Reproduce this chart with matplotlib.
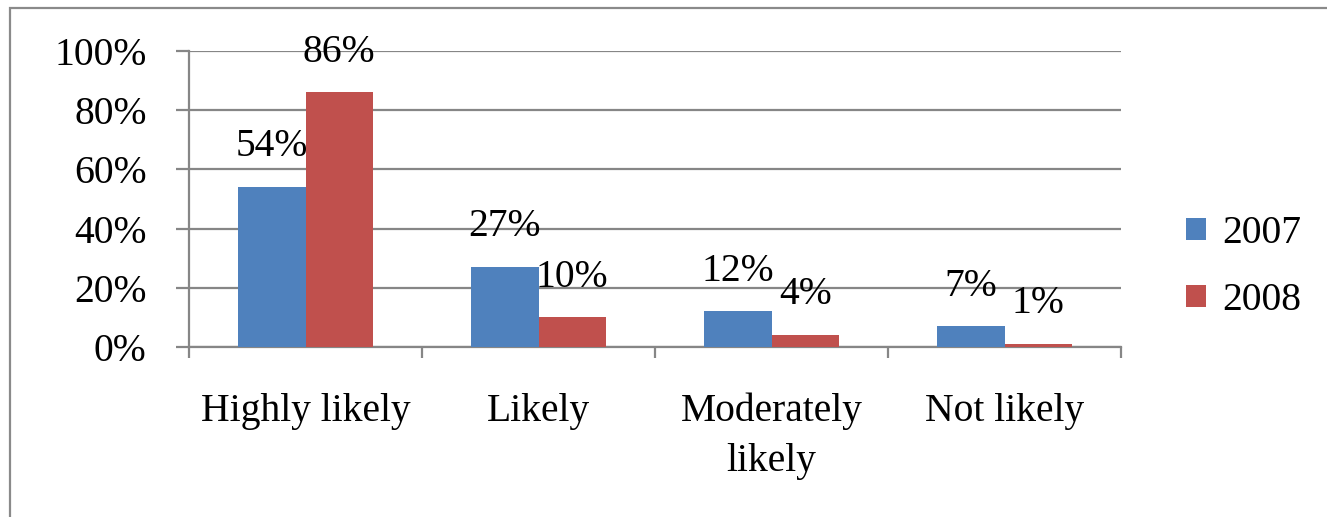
import matplotlib
matplotlib.use("Agg")
import matplotlib.pyplot as plt
from matplotlib.patches import Rectangle
import numpy as np

categories = ["Highly likely", "Likely", "Moderately\nlikely", "Not likely"]
series_names = ["2007", "2008"]
values_2007 = [54, 27, 12, 7]
values_2008 = [86, 10, 4, 1]
y_ticks = [0, 20, 40, 60, 80, 100]
y_tick_labels = ["0%", "20%", "40%", "60%", "80%", "100%"]

colors = ["#4F81BD", "#C0504D"]
grid_color = "#868686"

plt.rcParams["font.family"] = ["Liberation Serif", "DejaVu Serif"]
FS = 28.5

fig = plt.figure(figsize=(13.27, 5.17), dpi=100)
W, H = 1327, 517
ax = fig.add_axes([189 / W, 1 - 347 / H, (1121 - 189) / W, (347 - 51) / H])

# Figure border (only left and top visible)
fig.patches.append(Rectangle((10 / W, -0.5), 1.5, 1.5 - 8 / H, transform=fig.transFigure,
                             fill=False, edgecolor="#8a8a8a", linewidth=1.6, zorder=0))

n = len(categories)
centers = np.arange(n) + 0.5
bw = 0.29
for vals, col, off, name in [(values_2007, colors[0], -bw / 2, series_names[0]),
                             (values_2008, colors[1], bw / 2, series_names[1])]:
    ax.bar(centers + off, vals, width=bw, color=col, label=name, zorder=3)
    for x, v in zip(centers + off, vals):
        ax.annotate(f"{v}%", (x, v), xytext=(0, 29), textcoords="offset points",
                    ha="center", va="center", fontsize=FS, zorder=5)

ax.set_xlim(0, n)
ax.set_ylim(0, 100)
ax.set_yticks(y_ticks)
ax.set_yticklabels(y_tick_labels, fontsize=FS)
ax.yaxis.grid(True, color=grid_color, linewidth=1.6, zorder=0)
ax.set_axisbelow(True)

ax.set_xticks(centers)
ax.set_xticklabels(categories, fontsize=FS, linespacing=1.45, va="top")
ax.set_xticks(np.arange(n + 1), minor=True)
ax.tick_params(axis="x", which="major", length=0, pad=33)
ax.tick_params(axis="x", which="minor", length=8, width=1.6, color=grid_color, direction="out")
ax.tick_params(axis="y", length=9.5, width=1.6, color=grid_color, direction="out", pad=21)

for s in ["top", "right"]:
    ax.spines[s].set_visible(False)
for s in ["left", "bottom"]:
    ax.spines[s].set_color(grid_color)
    ax.spines[s].set_linewidth(1.6)

leg = ax.legend(loc="center left", bbox_to_anchor=(1.07, 0.27), frameon=False, fontsize=FS,
                handlelength=0.5, handleheight=0.5, handletextpad=0.4, labelspacing=0.75,
                borderpad=0, borderaxespad=0)

fig.savefig("out.png", dpi=100)
